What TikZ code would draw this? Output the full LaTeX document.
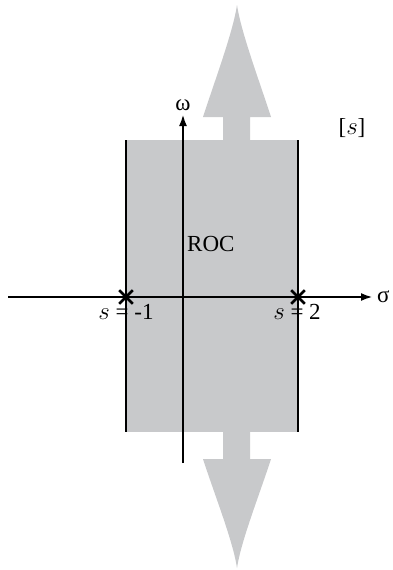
\documentclass[tikz,border=0pt]{standalone}
\usepackage{fontspec}
\setmainfont{Liberation Serif}
\usepackage{tikz}
\usetikzlibrary{arrows.meta,shapes.misc,positioning}
\definecolor{rocgray}{RGB}{200,201,203}
\tikzset{
  roc/.style={
    fill = rocgray,
    draw = none
  },
  axis/.style={
    line width = 2.4pt,
    -{Latex[length=12pt,width=8pt]}
  },
  edge/.style={
    line width = 2.4pt
  },
  pole/.style={
    shape = cross out,
    draw,
    line width = 2.6pt,
    minimum size = 11pt,
    inner sep = 0pt
  },
  lbl/.style={
    font = \fontsize{23}{25}\selectfont,
    inner sep = 1pt
  }
}
\begin{document}
\begin{tikzpicture}[x=1pt,y=-1pt]
    \useasboundingbox (0,0) rectangle (393,570);
    \def\xl{126}
    \def\xr{298}
    \def\yt{140}
    \def\yb{432}
    % strip and the two big arrows
    \fill[roc] (\xl,\yt) rectangle (\xr,\yb);
    \fill[roc] (223,\yt) -- (223,117) -- (203,117)
        .. controls (215,80) and (233,32) .. (237,5)
        .. controls (241,32) and (259,80) .. (271,117) -- (250,117) -- (250,\yt) -- cycle;
    \fill[roc] (223,\yb) -- (223,459) -- (203,459)
        .. controls (215,496) and (233,541) .. (237,568)
        .. controls (241,541) and (259,496) .. (271,459) -- (250,459) -- (250,\yb) -- cycle;
    % edges of the strip
    \coordinate (lt) at (\xl,\yt);
    \coordinate (lb) at (\xl,\yb);
    \coordinate (rt) at (\xr,\yt);
    \coordinate (rb) at (\xr,\yb);
    \draw[edge] (lt) -- (lb);
    \draw[edge] (rt) -- (rb);
    % axes
    \coordinate (xs) at (8,297);
    \coordinate (xe) at (373,297);
    \coordinate (ys) at (183,463);
    \coordinate (ye) at (183,114);
    \draw[axis] (xs) -- (xe);
    \draw[axis] (ys) -- (ye);
    \node[lbl, right=3pt of xe] (sigma) {σ};
    \node[lbl, above=2pt of ye] (omega) {ω};
    % poles
    \node[pole] (p1) at (\xl,297) {};
    \node[pole] (p2) at (\xr,297) {};
    \node[lbl, anchor=north] (p1l) at (126,303) {$s$ = -1};
    \node[lbl, anchor=north] (p2l) at (297,303) {$s$ = 2};
    \node[lbl, anchor=west] (roclbl) at (186,244) {ROC};
    \node[lbl] (plane) at (352,128) {[$s$]};
\end{tikzpicture}
\end{document}
